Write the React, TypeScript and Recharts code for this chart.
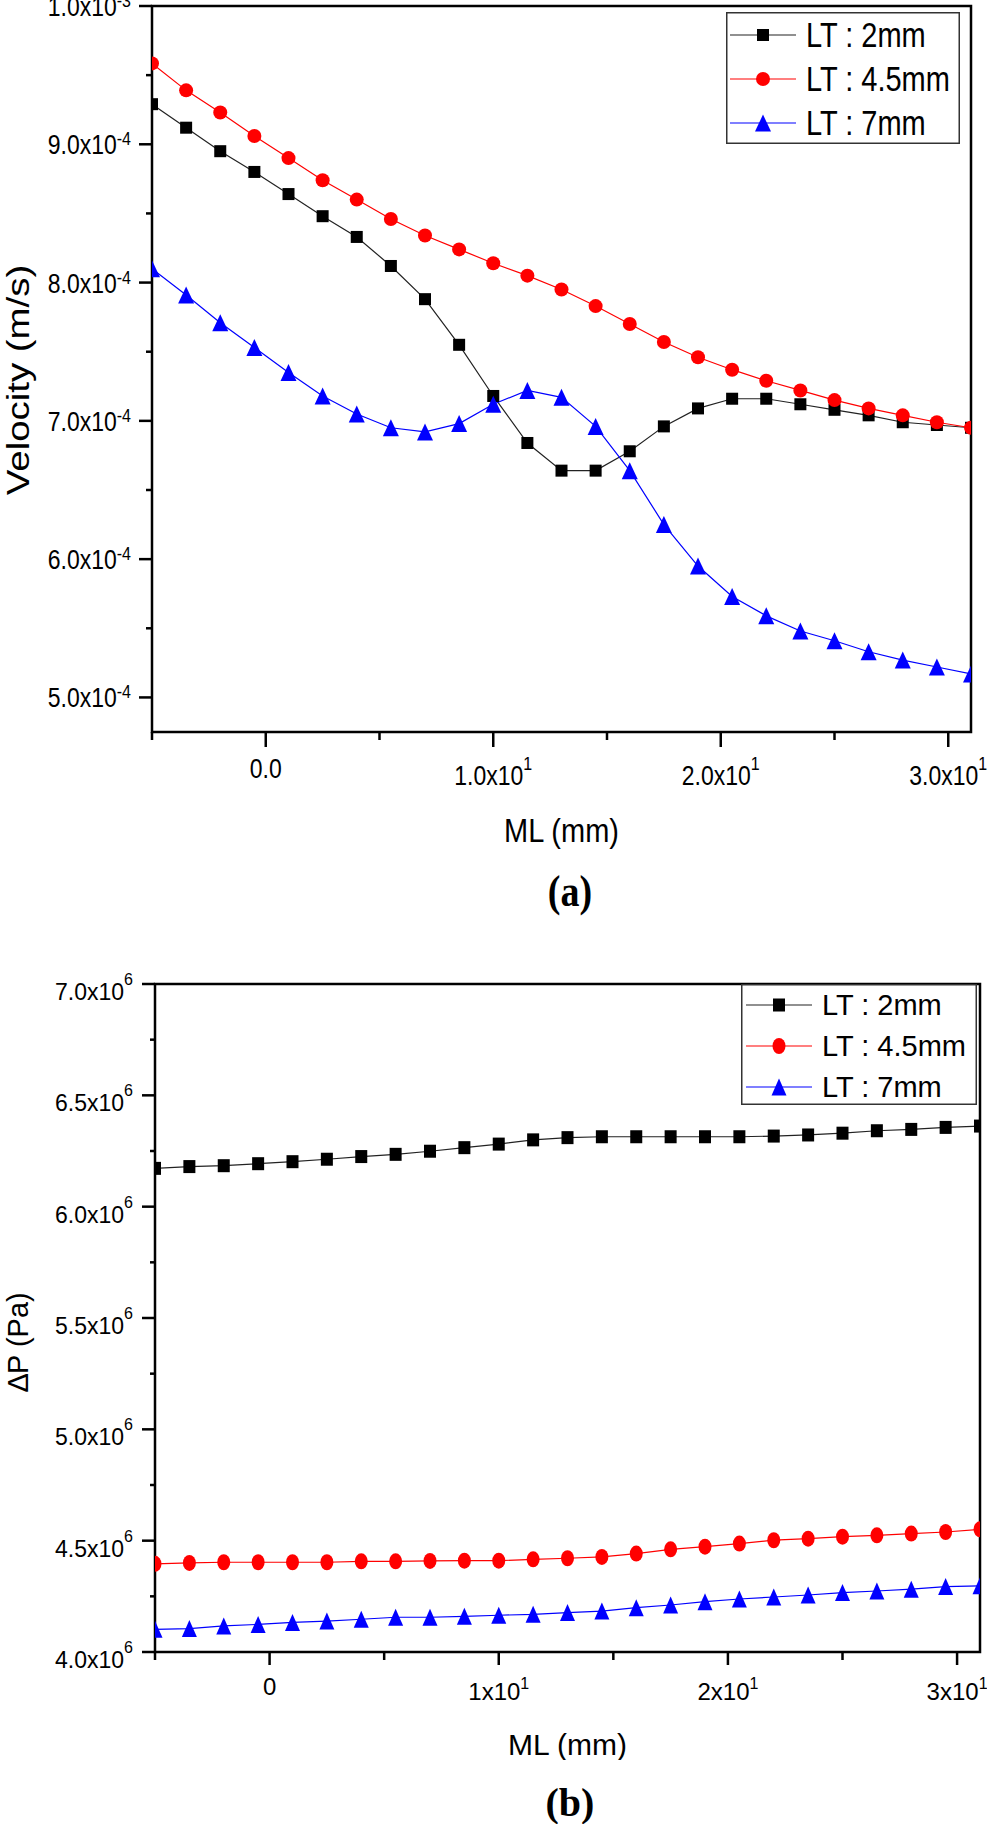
import React from 'react'
import { LineChart, Line, XAxis, YAxis, Legend, ReferenceArea } from 'recharts'

// ML positions (mm), shared by both panels
const mlPositions = [-5, -3.5, -2, -0.5, 1, 2.5, 4, 5.5, 7, 8.5, 10, 11.5, 13, 14.5, 16, 17.5, 19, 20.5, 22, 23.5, 25, 26.5, 28, 29.5, 31]

// panel (a) velocity, m/s
const velocity2mm = [9.29e-4, 9.12e-4, 8.95e-4, 8.8e-4, 8.64e-4, 8.48e-4, 8.33e-4, 8.12e-4, 7.88e-4, 7.55e-4, 7.18e-4, 6.84e-4, 6.64e-4, 6.64e-4, 6.78e-4, 6.96e-4, 7.09e-4, 7.16e-4, 7.16e-4, 7.12e-4, 7.08e-4, 7.04e-4, 6.99e-4, 6.97e-4, 6.95e-4]
const velocity45mm = [9.585e-4, 9.39e-4, 9.23e-4, 9.06e-4, 8.9e-4, 8.74e-4, 8.6e-4, 8.46e-4, 8.34e-4, 8.24e-4, 8.14e-4, 8.05e-4, 7.95e-4, 7.83e-4, 7.7e-4, 7.57e-4, 7.46e-4, 7.37e-4, 7.29e-4, 7.22e-4, 7.15e-4, 7.09e-4, 7.04e-4, 6.99e-4, 6.95e-4]
const velocity7mm = [8.1e-4, 7.91e-4, 7.71e-4, 7.53e-4, 7.35e-4, 7.18e-4, 7.05e-4, 6.95e-4, 6.92e-4, 6.98e-4, 7.12e-4, 7.22e-4, 7.17e-4, 6.96e-4, 6.64e-4, 6.25e-4, 5.95e-4, 5.73e-4, 5.59e-4, 5.48e-4, 5.41e-4, 5.33e-4, 5.27e-4, 5.22e-4, 5.17e-4]

// panel (b) pressure drop, Pa
const pressure2mm = [6.172e6, 6.18e6, 6.184e6, 6.193e6, 6.202e6, 6.213e6, 6.225e6, 6.235e6, 6.249e6, 6.265e6, 6.281e6, 6.3e6, 6.31e6, 6.314e6, 6.314e6, 6.314e6, 6.314e6, 6.314e6, 6.317e6, 6.322e6, 6.33e6, 6.341e6, 6.347e6, 6.356e6, 6.362e6]
const pressure45mm = [4.396e6, 4.4e6, 4.403e6, 4.403e6, 4.403e6, 4.403e6, 4.407e6, 4.407e6, 4.409e6, 4.41e6, 4.41e6, 4.416e6, 4.421e6, 4.427e6, 4.442e6, 4.461e6, 4.473e6, 4.487e6, 4.502e6, 4.509e6, 4.518e6, 4.524e6, 4.532e6, 4.539e6, 4.551e6]
const pressure7mm = [4.102e6, 4.105e6, 4.117e6, 4.124e6, 4.133e6, 4.139e6, 4.147e6, 4.156e6, 4.156e6, 4.16e6, 4.165e6, 4.169e6, 4.177e6, 4.184e6, 4.199e6, 4.211e6, 4.226e6, 4.238e6, 4.247e6, 4.256e6, 4.267e6, 4.274e6, 4.282e6, 4.294e6, 4.297e6]

// ticks
const mlTicks = [-5, 0, 5, 10, 15, 20, 25, 30]
const velocityTicks = [5e-4, 5.5e-4, 6e-4, 6.5e-4, 7e-4, 7.5e-4, 8e-4, 8.5e-4, 9e-4, 9.5e-4, 1e-3]
const pressureTicks = [4e6, 4.25e6, 4.5e6, 4.75e6, 5e6, 5.25e6, 5.5e6, 5.75e6, 6e6, 6.25e6, 6.5e6, 6.75e6, 7e6]

const seriesNames = ['LT : 2mm', 'LT : 4.5mm', 'LT : 7mm']

const velocityRows = mlPositions.map((ml, i) => ({ ml, lt2: velocity2mm[i], lt45: velocity45mm[i], lt7: velocity7mm[i] }))
const pressureRows = mlPositions.map((ml, i) => ({ ml, lt2: pressure2mm[i], lt45: pressure45mm[i], lt7: pressure7mm[i] }))

const sans = '"Liberation Sans", Arial, sans-serif'
const serif = '"Liberation Serif", "Times New Roman", serif'

type Shape = 'square' | 'circle' | 'triangle'

const Marker = ({ shape, cx, cy, color, w, h }: { shape: Shape; cx: number; cy: number; color: string; w: number; h: number }) => {
  if (shape === 'square') return <rect x={cx - w / 2} y={cy - h / 2} width={w} height={h} fill={color} />
  if (shape === 'circle') return <ellipse cx={cx} cy={cy} rx={w / 2} ry={h / 2} fill={color} />
  return <polygon points={`${cx},${cy - h / 2} ${cx - w / 2},${cy + h / 2} ${cx + w / 2},${cy + h / 2}`} fill={color} />
}

const styleA = [
  { key: 'lt2', color: '#000000', line: '#222222', shape: 'square' as Shape, w: 12, h: 12 },
  { key: 'lt45', color: '#ff0000', line: '#ff0000', shape: 'circle' as Shape, w: 14, h: 14 },
  { key: 'lt7', color: '#0000ff', line: '#0000ff', shape: 'triangle' as Shape, w: 16, h: 17 },
]
const styleB = [
  { key: 'lt2', color: '#000000', line: '#222222', shape: 'square' as Shape, w: 12, h: 13 },
  { key: 'lt45', color: '#ff0000', line: '#ff0000', shape: 'circle' as Shape, w: 13, h: 16 },
  { key: 'lt7', color: '#0000ff', line: '#0000ff', shape: 'triangle' as Shape, w: 15, h: 17 },
]

const sci = (v: number, digits: number) => {
  if (v === 0) return { mant: digits ? '0.0' : '0', exp: '' }
  const [m, e] = v.toExponential(digits).split('e')
  return { mant: m, exp: String(Number(e)) }
}

const SciText = ({ px, py, anchor, v, digits, size, supSize, rise, stretch = 1 }: any) => {
  const { mant, exp } = sci(v, digits)
  return (
    <text transform={`translate(${px},${py}) scale(1,${stretch})`} textAnchor={anchor} fontFamily={sans} fontSize={size} fill="#000">
      <tspan>{exp ? mant + 'x10' : mant}</tspan>
      {exp && <tspan dy={-rise / stretch} fontSize={supSize}>{exp}</tspan>}
    </text>
  )
}

const TickAX = ({ x, y, payload }: any) => {
  const v = payload.value as number
  const major = v % 10 === 0
  return (
    <g>
      <line x1={x} x2={x} y1={y} y2={y + (major ? 15 : 8)} stroke="#000" strokeWidth={2.5} />
      {major && (
        <SciText px={x} py={y + (v === 0 ? 46 : 53)} anchor="middle" v={v} digits={1} size={23} supSize={16} rise={15} stretch={1.2} />
      )}
    </g>
  )
}

const TickAY = ({ x, y, payload }: any) => {
  const v = payload.value as number
  const major = Math.abs(v * 1e4 - Math.round(v * 1e4)) < 1e-6
  return (
    <g>
      <line x1={x - (major ? 13 : 6)} x2={x} y1={y} y2={y} stroke="#000" strokeWidth={2.5} />
      {major && <SciText px={x - 21} py={y + 10} anchor="end" v={v} digits={1} size={23} supSize={16} rise={9} stretch={1.2} />}
    </g>
  )
}

const TickBX = ({ x, y, payload }: any) => {
  const v = payload.value as number
  const major = v % 10 === 0
  return (
    <g>
      <line x1={x} x2={x} y1={y} y2={y + (major ? 13 : 8)} stroke="#000" strokeWidth={2.5} />
      {major && <SciText px={x} py={y + (v === 0 ? 43 : 48)} anchor="middle" v={v} digits={0} size={24} supSize={16} rise={11} />}
    </g>
  )
}

const TickBY = ({ x, y, payload }: any) => {
  const v = payload.value as number
  const major = Math.abs(v / 5e5 - Math.round(v / 5e5)) < 1e-6
  return (
    <g>
      <line x1={x - (major ? 13 : 5)} x2={x} y1={y} y2={y} stroke="#000" strokeWidth={2.5} />
      {major && <SciText px={x - 22} py={y + 16} anchor="end" v={v} digits={1} size={23} supSize={16} rise={15} />}
    </g>
  )
}

const AxisTitle = ({ posX, posY, text, size, rotate = false, stretch = 1 }: any) => (
  <text
    transform={`translate(${posX},${posY}) scale(1,${stretch})${rotate ? ' rotate(-90)' : ''}`}
    textAnchor="middle"
    fontFamily={sans}
    fontSize={size}
    fill="#000"
  >
    {text}
  </text>
)

const LegendBox = ({ styles, w, h, rows, lineX1, lineX2, markX, textX, baselines, size, stretch }: any) => (
  <svg width={w} height={h} style={{ display: 'block' }}>
    <rect x={0.75} y={0.75} width={w - 1.5} height={h - 1.5} fill="#fff" stroke="#333" strokeWidth={1.5} />
    {styles.map((s: any, i: number) => (
      <g key={s.key}>
        <line x1={lineX1} x2={lineX2} y1={rows[i]} y2={rows[i]} stroke={s.line} strokeWidth={1.2} />
        <Marker shape={s.shape} cx={markX} cy={rows[i]} color={s.color} w={s.w} h={s.h} />
        <text transform={`translate(${textX},${baselines[i]}) scale(1,${stretch})`} fontFamily={sans} fontSize={size} fill="#000">
          {seriesNames[i]}
        </text>
      </g>
    ))}
  </svg>
)

const App = () => {
  return (
    <div style={{ position: 'absolute', left: 0, top: 0, width: 987, height: 1824, background: '#fff' }}>
      <div style={{ position: 'absolute', left: 0, top: 0 }}>
        <LineChart width={987} height={860} data={velocityRows} margin={{ top: 6, right: 16, bottom: 0, left: 0 }}>
          <XAxis
            dataKey="ml"
            type="number"
            domain={[-5, 31]}
            ticks={mlTicks}
            interval={0}
            allowDataOverflow
            height={128}
            axisLine={false}
            tickLine={false}
            tickSize={0}
            tickMargin={0}
            tick={(p: any) => <TickAX {...p} />}
            label={<AxisTitle posX={561.5} posY={842} text="ML (mm)" size={29} stretch={1.15} />}
          />
          <YAxis
            type="number"
            domain={[4.75e-4, 1e-3]}
            ticks={velocityTicks}
            interval={0}
            allowDataOverflow
            width={152}
            axisLine={false}
            tickLine={false}
            tickSize={0}
            tickMargin={0}
            tick={(p: any) => <TickAY {...p} />}
            label={<AxisTitle posX={29} posY={380} text="Velocity (m/s)" size={32} rotate stretch={1.2} />}
          />
          <ReferenceArea x1={-5} x2={31} y1={4.75e-4} y2={1e-3} fill="none" stroke="#000" strokeWidth={2.5} ifOverflow="visible" />
          {styleA.map((s, i) => (
            <Line
              key={s.key}
              dataKey={s.key}
              name={seriesNames[i]}
              type="linear"
              stroke={s.line}
              strokeWidth={1.2}
              isAnimationActive={false}
              activeDot={false}
              dot={(p: any) => <Marker key={`${s.key}-${p.index}`} shape={s.shape} cx={p.cx} cy={p.cy} color={s.color} w={s.w} h={s.h} />}
            />
          ))}
          <Legend
            layout="horizontal"
            verticalAlign="middle"
            align="center"
            wrapperStyle={{ left: 726, top: 12, width: 234, height: 132, lineHeight: 0 }}
            content={() => (
              <LegendBox
                styles={styleA}
                w={234}
                h={132}
                rows={[23, 67, 111]}
                lineX1={4}
                lineX2={70}
                markX={37}
                textX={80}
                baselines={[34.5, 78.5, 122.5]}
                size={29}
                stretch={1.2}
              />
            )}
          />
        </LineChart>
      </div>

      <div style={{ position: 'absolute', left: 0, top: 940 }}>
        <LineChart width={987} height={820} data={pressureRows} margin={{ top: 44, right: 7, bottom: 0, left: 0 }}>
          <XAxis
            dataKey="ml"
            type="number"
            domain={[-5, 31]}
            ticks={mlTicks}
            interval={0}
            allowDataOverflow
            height={108}
            axisLine={false}
            tickLine={false}
            tickSize={0}
            tickMargin={0}
            tick={(p: any) => <TickBX {...p} />}
            label={<AxisTitle posX={567.5} posY={815} text="ML (mm)" size={30} />}
          />
          <YAxis
            type="number"
            domain={[4e6, 7e6]}
            ticks={pressureTicks}
            interval={0}
            allowDataOverflow
            width={155}
            axisLine={false}
            tickLine={false}
            tickSize={0}
            tickMargin={0}
            tick={(p: any) => <TickBY {...p} />}
            label={<AxisTitle posX={28} posY={402} text="∆P (Pa)" size={29} rotate />}
          />
          <ReferenceArea x1={-5} x2={31} y1={4e6} y2={7e6} fill="none" stroke="#000" strokeWidth={2.5} ifOverflow="visible" />
          {styleB.map((s, i) => (
            <Line
              key={s.key}
              dataKey={s.key}
              name={seriesNames[i]}
              type="linear"
              stroke={s.line}
              strokeWidth={1.2}
              isAnimationActive={false}
              activeDot={false}
              dot={(p: any) => <Marker key={`${s.key}-${p.index}`} shape={s.shape} cx={p.cx} cy={p.cy} color={s.color} w={s.w} h={s.h} />}
            />
          ))}
          <Legend
            layout="horizontal"
            verticalAlign="middle"
            align="center"
            wrapperStyle={{ left: 741, top: 44, width: 236, height: 121, lineHeight: 0 }}
            content={() => (
              <LegendBox
                styles={styleB}
                w={236}
                h={121}
                rows={[21, 62, 103]}
                lineX1={5}
                lineX2={71}
                markX={38}
                textX={81}
                baselines={[31, 72, 113]}
                size={29}
                stretch={1}
              />
            )}
          />
        </LineChart>
      </div>

      <svg width={987} height={1824} style={{ position: 'absolute', left: 0, top: 0, pointerEvents: 'none' }}>
        <text transform="translate(570,906) scale(1,1.15)" textAnchor="middle" fontFamily={serif} fontWeight="bold" fontSize={38} fill="#000">
          (a)
        </text>
        <text x={570} y={1816} textAnchor="middle" fontFamily={serif} fontWeight="bold" fontSize={40} fill="#000">
          (b)
        </text>
      </svg>
    </div>
  )
}

export default App
